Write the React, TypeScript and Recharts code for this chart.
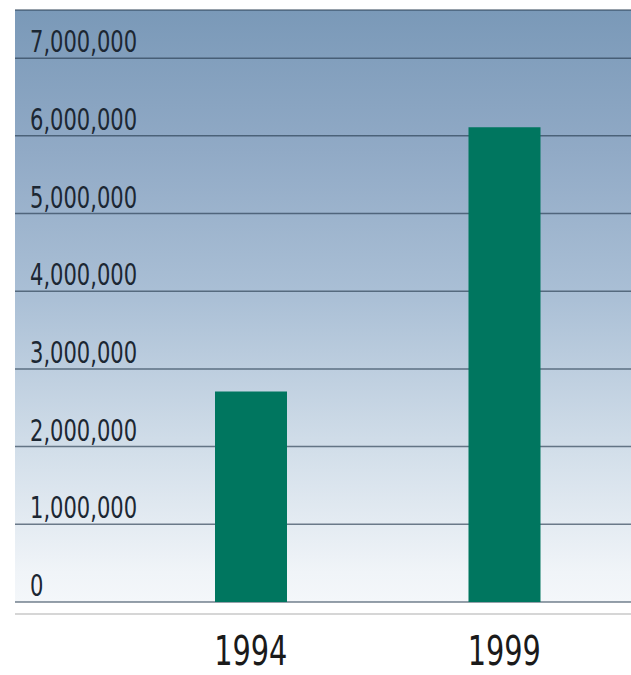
import React from 'react';
import { BarChart, Bar, XAxis, YAxis, CartesianGrid } from 'recharts';

const years = ['1994', '1999'];
const values = [2710000, 6110000];
const yTicks = [0, 1000000, 2000000, 3000000, 4000000, 5000000, 6000000, 7000000];
const yMax = 7620000;

const data = years.map((year, i) => ({ year, value: values[i] }));

const FONT = "'DejaVu Sans Condensed', 'DejaVu Sans', sans-serif";

const fmt = (v: number) => String(v).replace(/\B(?=(\d{3})+(?!\d))/g, ',');

const renderYTick = (props: any) => {
  const { x, y, payload } = props;
  return (
    <g transform={`translate(${x + 15},${y - 6}) scale(0.78,1)`}>
      <text x={0} y={0} fontFamily={FONT} fontSize={30} fill="#1c2733" textAnchor="start">
        {fmt(payload.value)}
      </text>
    </g>
  );
};

const renderXTick = (props: any) => {
  const { x, y, payload } = props;
  return (
    <g transform={`translate(${x},${y + 57}) scale(0.8,1)`}>
      <text x={0} y={0} fontFamily={FONT} fontSize={40} fill="#1a1a1a" textAnchor="middle">
        {payload.value}
      </text>
    </g>
  );
};

export default function App() {
  return (
    <div style={{ position: 'absolute', left: 0, top: 0, background: '#fff' }}>
      <BarChart width={631} height={675} data={data} margin={{ top: 10, right: 0, left: 0, bottom: 10 }}>
        <defs>
          <linearGradient id="bgGrad" x1="0" y1="0" x2="0" y2="1">
            <stop offset="0%" stopColor="#7a99b8" />
            <stop offset="24%" stopColor="#91aac6" />
            <stop offset="49%" stopColor="#abc0d6" />
            <stop offset="75%" stopColor="#d3dfea" />
            <stop offset="95%" stopColor="#f0f4f8" />
            <stop offset="100%" stopColor="#f4f7fa" />
          </linearGradient>
        </defs>
        <CartesianGrid
          vertical={false}
          fill="url(#bgGrad)"
          fillOpacity={1}
          stroke="rgba(40,60,80,0.65)"
          strokeWidth={1.5}
        />
        <YAxis
          width={15}
          domain={[0, yMax]}
          ticks={yTicks}
          tick={renderYTick}
          tickLine={false}
          axisLine={false}
          tickSize={0}
          tickMargin={0}
          interval={0}
          allowDataOverflow
        />
        <XAxis
          dataKey="year"
          height={63}
          padding={{ left: 109, right: 0 }}
          tickLine={false}
          tickSize={0}
          tickMargin={6}
          tick={renderXTick}
          axisLine={{ stroke: '#c9c9c9', strokeWidth: 1.5, transform: 'translate(0, 12)' }}
        />
        <Bar dataKey="value" fill="#00765f" barSize={72} isAnimationActive={false} />
      </BarChart>
    </div>
  );
}
